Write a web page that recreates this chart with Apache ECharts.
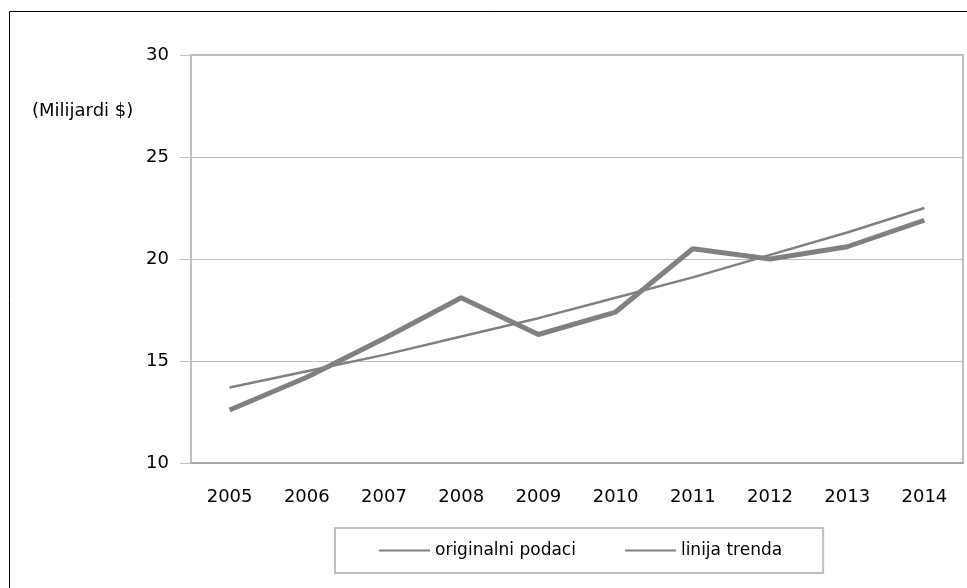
<!DOCTYPE html>
<html>
<head>
<meta charset="utf-8">
<script src="https://cdn.jsdelivr.net/npm/echarts@6/dist/echarts.min.js"></script>
<style>
  html, body { margin: 0; padding: 0; background: #fff; }
  #chart { width: 967px; height: 588px; }
</style>
</head>
<body>
<div id="chart"></div>
<script>
  // podaci
  var years = ["2005", "2006", "2007", "2008", "2009", "2010", "2011", "2012", "2013", "2014"];
  var original = [12.6, 14.2, 16.1, 18.1, 16.3, 17.4, 20.5, 20.0, 20.6, 21.9];
  var trend = [13.7, 14.5, 15.3, 16.2, 17.1, 18.1, 19.1, 20.2, 21.3, 22.5];
  var seriesNames = ["originalni podaci", "linija trenda"];

  (function () {
    var myChart = echarts.init(document.getElementById("chart"));
    var font = "DejaVu Sans";

    var option = {
      animation: false,
      backgroundColor: "#fff",
      color: ["#808080", "#808080"],
      graphic: [
        {
          // okvir
          type: "rect",
          shape: { x: 9.5, y: 11.5, width: 1000, height: 600 },
          style: { fill: "none", stroke: "#000", lineWidth: 1 }
        },
        {
          type: "text",
          left: 32,
          top: 102,
          style: { text: "(Milijardi $)", font: "18px " + font, fill: "#000" }
        }
      ],
      legend: {
        data: seriesNames.map(function (n) { return { name: n, icon: "rect" }; }),
        left: 335,
        top: 528,
        width: 488,
        padding: [14, 41, 14, 44],
        itemWidth: 51,
        itemHeight: 2,
        itemGap: 49,
        borderColor: "#bfbfbf",
        borderWidth: 2,
        textStyle: { fontFamily: font, fontSize: 17, color: "#000" }
      },
      grid: {
        left: 191,
        right: 4,
        top: 55,
        bottom: 125,
        show: true,
        borderColor: "#bfbfbf",
        borderWidth: 2
      },
      xAxis: {
        type: "category",
        data: years,
        boundaryGap: true,
        axisLine: { lineStyle: { color: "#a6a6a6", width: 2 } },
        axisTick: { length: 7, lineStyle: { color: "#a6a6a6" } },
        axisLabel: { margin: 25, fontFamily: font, fontSize: 18, color: "#000" }
      },
      yAxis: {
        type: "value",
        min: 10,
        max: 30,
        interval: 5,
        axisLine: { show: true, lineStyle: { color: "#bfbfbf", width: 2 } },
        axisTick: { show: true, length: 11, lineStyle: { color: "#bfbfbf" } },
        axisLabel: { margin: 22, fontFamily: font, fontSize: 18, color: "#000" },
        splitLine: { lineStyle: { color: "#bfbfbf", width: 1 } }
      },
      series: [
        {
          name: seriesNames[0],
          type: "line",
          data: original,
          showSymbol: false,
          lineStyle: { width: 5, color: "#808080" }
        },
        {
          name: seriesNames[1],
          type: "line",
          data: trend,
          showSymbol: false,
          lineStyle: { width: 2.5, color: "#808080" }
        }
      ]
    };

    myChart.setOption(option);
    window.addEventListener("resize", function () {
      myChart.resize();
    });
  })();
</script>
</body>
</html>
